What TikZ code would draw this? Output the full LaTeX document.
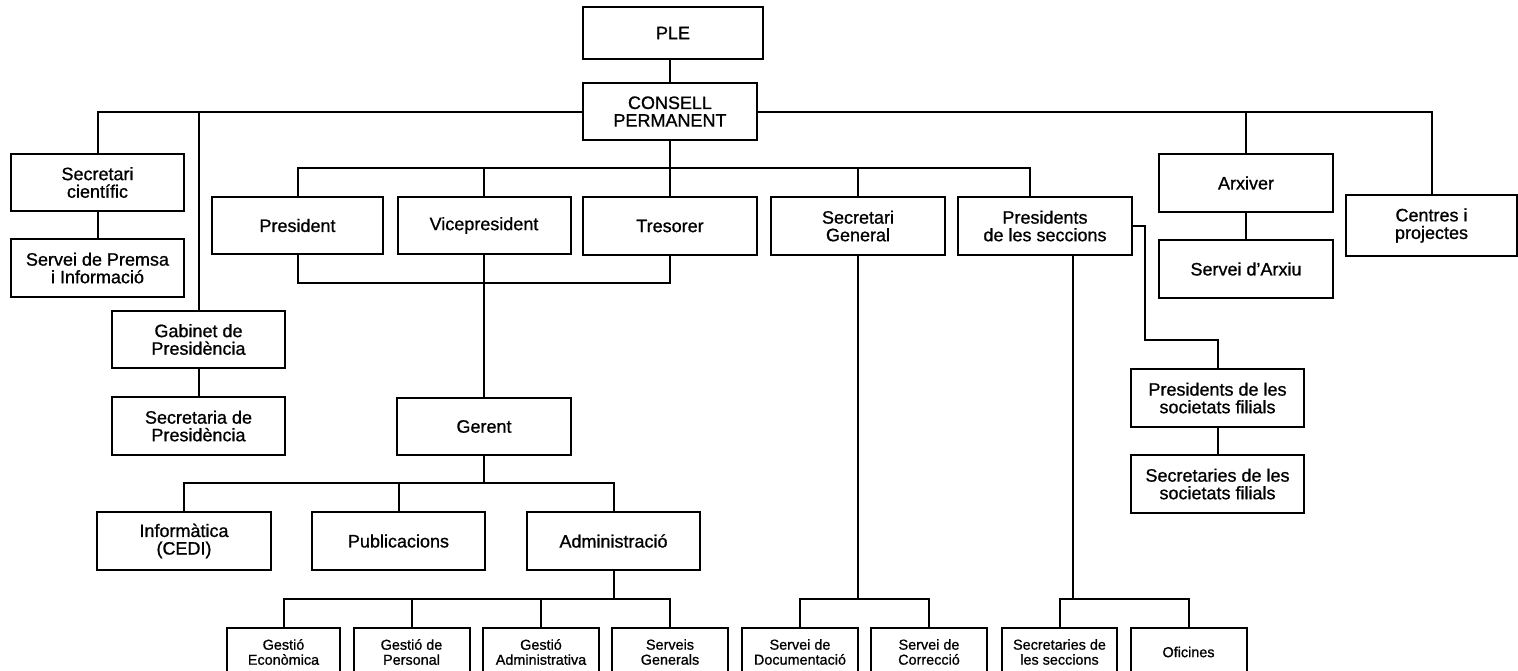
\documentclass[tikz,border=0pt]{standalone}
\usepackage{fontspec}
\setmainfont[FakeBold=0.9]{Liberation Sans}
\begin{document}
\begin{tikzpicture}[x=0.5pt,y=-0.5pt,line width=1pt,
box/.style={draw,align=center,inner sep=0pt,minimum width=86.5pt,minimum height=28.75pt,font=\fontsize{9}{8.8}\selectfont},
small/.style={draw,align=center,inner sep=0pt,minimum width=58pt,minimum height=24pt,font=\fontsize{7.2}{7.5}\selectfont}]
\useasboundingbox (0,0) rectangle (1518,670);
\clip (0,0) rectangle (1518,670);
\node[box,minimum width=90pt,minimum height=26pt] (ple) at (673,33) {PLE};
\node[box,minimum width=87pt] (consell) at (670,111.5) {CONSELL\\PERMANENT};
\node[box] (scien) at (97.5,182.5) {Secretari\\científic};
\node[box] (premsa) at (97.5,268) {Servei de Premsa\\i Informació};
\node[box] (gabinet) at (198.5,339.5) {Gabinet de\\Presidència};
\node[box] (secpres) at (198.5,426) {Secretaria de\\Presidència};
\node[box,minimum width=85.5pt] (pres) at (297.5,225.5) {President};
\node[box] (vice) at (484,225.5) {Vicepresident};
\node[box,minimum width=87pt] (treso) at (670,226) {Tresorer};
\node[box,minimum width=87pt] (secgen) at (858,226) {Secretari\\General};
\node[box,minimum width=87pt] (psec) at (1045,226) {Presidents\\de les seccions};
\node[box,minimum width=87pt] (arxiver) at (1246,183) {Arxiver};
\node[box,minimum width=87pt] (sarxiu) at (1246,269) {Servei d'Arxiu};
\node[box,minimum width=85.5pt,minimum height=30.5pt] (centres) at (1431.5,225.5) {Centres i\\projectes};
\node[box,minimum width=87pt] (gerent) at (484,426.5) {Gerent};
\node[box,minimum width=87pt] (inform) at (184,541) {Informàtica\\(CEDI)};
\node[box] (publi) at (398.5,541) {Publicacions};
\node[box] (admin) at (613.5,541) {Administració};
\node[box] (pfil) at (1217.5,398) {Presidents de les\\societats filials};
\node[box] (sfil) at (1217.5,484) {Secretaries de les\\societats filials};
\node[small,minimum width=56.5pt] (geco) at (283.5,652) {Gestió\\Econòmica};
\node[small] (gper) at (411.5,652) {Gestió de\\Personal};
\node[small] (gadm) at (541,652) {Gestió\\Administrativa};
\node[small] (sgen) at (670,652) {Serveis\\Generals};
\node[small] (sdoc) at (800,652) {Servei de\\Documentació};
\node[small] (scor) at (929,652) {Servei de\\Correcció};
\node[small,minimum width=57.5pt] (ssec) at (1059.5,652) {Secretaries de\\les seccions};
\node[small] (ofi) at (1188.5,652) {Oficines};
\coordinate (h1) at (0,168);
\coordinate (h2) at (0,283);
\coordinate (h3) at (0,483);
\coordinate (h4) at (0,599);
\coordinate (k1) at (1145,340);
\draw (consell.north) -- (consell.north |- ple.south);
\draw (consell.west) -| (scien.north);
\draw (gabinet.north) |- (consell.west);
\draw (consell.east) -| (centres.north);
\draw (arxiver.north) |- (consell.east);
\draw (scien) -- (premsa);
\draw (gabinet) -- (secpres);
\draw (arxiver) -- (sarxiu);
\draw (pfil) -- (sfil);
\draw (consell) -- (treso);
\draw (pres.north) -- (pres.north |- h1) -| ([xshift=-7.5pt]psec.north);
\draw (vice.north) -- (vice.north |- h1);
\draw (secgen.north) -- (secgen.north |- h1);
\draw (pres.south) -- (pres.south |- h2) -| (treso.south);
\draw (vice) -- (gerent);
\draw (inform.north) -- (inform.north |- h3) -| (admin.north);
\draw (gerent.south) -- (gerent.south |- h3);
\draw (publi.north) -- (publi.north |- h3);
\draw (geco.north) -- (geco.north |- h4) -| (sgen.north);
\draw (admin.south) -- (admin.south |- h4);
\draw (gper.north) -- (gper.north |- h4);
\draw (gadm.north) -- (gadm.north |- h4);
\draw (sdoc.north) -- (sdoc.north |- h4) -| (scor.north);
\draw (secgen.south) -- (secgen.south |- h4);
\draw (ssec.north) -- (ssec.north |- h4) -| (ofi.north);
\draw ([xshift=14pt]psec.south) -- ([xshift=14pt]psec.south |- h4);
\draw (psec.east) -| (k1) -| (pfil.north);
\end{tikzpicture}
\end{document}
